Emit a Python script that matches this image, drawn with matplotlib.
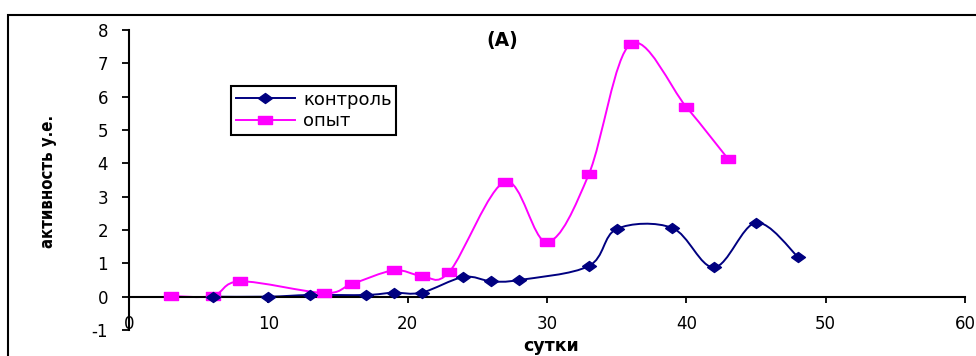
import numpy as np
import matplotlib
matplotlib.use("Agg")
import matplotlib.pyplot as plt
from matplotlib.path import Path
from matplotlib.patches import PathPatch, Rectangle
from matplotlib.lines import Line2D

plt.rcParams['font.family'] = ['DejaVu Sans']

# контроль (diamonds)
days_ctrl = [6, 10, 13, 17, 19, 21, 24, 26, 28, 33, 35, 39, 42, 45, 48]
act_ctrl = [0.0, 0.0, 0.05, 0.05, 0.12, 0.12, 0.59, 0.46, 0.5, 0.92, 2.03, 2.06, 0.88, 2.22, 1.2]

# опыт (squares)
days_exp = [3, 6, 8, 14, 16, 19, 21, 23, 27, 30, 33, 36, 40, 43]
act_exp = [0.02, 0.02, 0.46, 0.11, 0.38, 0.79, 0.63, 0.75, 3.45, 1.64, 3.67, 7.58, 5.69, 4.13]

xticks = [0, 10, 20, 30, 40, 50, 60]
yticks = [-1, 0, 1, 2, 3, 4, 5, 6, 7, 8]

NAVY = '#000080'
MAGENTA = '#FF00FF'

# wide markers like in the excel picture
diamond = [(-1, 0), (0, 0.72), (1, 0), (0, -0.72), (-1, 0)]
square = [(-1, -0.62), (1, -0.62), (1, 0.62), (-1, 0.62), (-1, -0.62)]


def smooth_path(xs, ys):
    # excel-like smoothed line: cubic bezier through the points
    p = np.column_stack([xs, ys]).astype(float)
    n = len(p)
    verts = [p[0]]
    codes = [Path.MOVETO]
    for i in range(n - 1):
        p0 = p[i - 1] if i > 0 else p[i]
        p3 = p[i + 2] if i + 2 < n else p[i + 1]
        c1 = p[i] + (p[i + 1] - p0) / 6.0
        c2 = p[i + 1] - (p3 - p[i]) / 6.0
        verts += [c1, c2, p[i + 1]]
        codes += [Path.CURVE4] * 3
    return Path(verts, codes)


fig = plt.figure(figsize=(9.76, 3.56), dpi=100)
ax = fig.add_axes([129 / 976, 26 / 356, 836 / 976, 300 / 356])

for xs, ys, col, mk in [(days_exp, act_exp, MAGENTA, square),
                        (days_ctrl, act_ctrl, NAVY, diamond)]:
    ax.add_patch(PathPatch(smooth_path(xs, ys), facecolor='none',
                           edgecolor=col, lw=1.4, zorder=2))
    ax.plot(xs, ys, ls='none', marker=mk, ms=10, color=col, zorder=3)

ax.set_xlim(0, 60)
ax.set_ylim(-1, 8)
ax.set_xticks(xticks)
ax.set_yticks(yticks)
ax.set_yticklabels([str(v) for v in yticks])

for s in ['top', 'right']:
    ax.spines[s].set_visible(False)
ax.spines['bottom'].set_position(('data', 0))
ax.spines['left'].set_linewidth(1.5)
ax.spines['bottom'].set_linewidth(1.5)
ax.tick_params(axis='y', direction='out', length=5, width=1.3, pad=10, labelsize=12)
ax.tick_params(axis='x', direction='out', length=4, width=1.3, pad=9, labelsize=12)

ax.text(26.8, 7.7, '(A)', fontsize=13.5, fontweight='bold', ha='center', va='center')

fig.text(48 / 976, 1 - 181 / 356, 'активность у.е.', rotation=90, ha='center', va='center',
         fontsize=12, fontweight='bold', fontstretch='condensed',
         family=['Liberation Sans Narrow', 'DejaVu Sans'])
fig.text(551 / 976, 1 - 346 / 356, 'сутки', ha='center', va='center',
         fontsize=12.5, fontweight='bold')

handles = [Line2D([], [], color=NAVY, lw=1.4, marker=diamond, ms=10),
           Line2D([], [], color=MAGENTA, lw=1.4, marker=square, ms=10)]
leg = fig.legend(handles, ['контроль', 'опыт'], loc='upper left',
                 bbox_to_anchor=(231 / 976, 1 - 86 / 356), borderaxespad=0,
                 fontsize=13, handlelength=3.3, handletextpad=0.45,
                 labelspacing=0.2, borderpad=0.25, fancybox=False, framealpha=1)
leg.get_frame().set_edgecolor('black')
leg.get_frame().set_linewidth(1.5)

# outer frame of the chart area
fig.patches.append(Rectangle((8 / 976, -0.2), 1.2, 1.2 - 15 / 356, transform=fig.transFigure,
                             fill=False, edgecolor='black', lw=1.5, clip_on=False))

fig.savefig('out.png', dpi=100)
